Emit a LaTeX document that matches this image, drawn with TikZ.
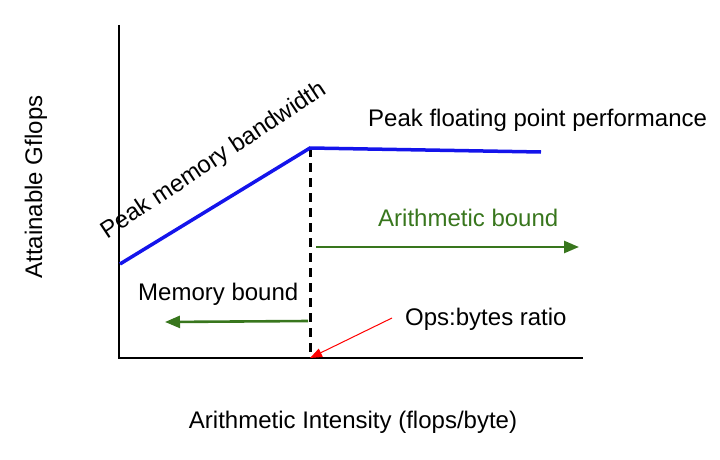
\documentclass[tikz,border=0pt]{standalone}
\usepackage{fontspec}
\setmainfont{Liberation Sans}
\usetikzlibrary{arrows.meta}
\definecolor{gbound}{RGB}{56,118,29}
\definecolor{roofblue}{RGB}{20,20,235}
\tikzset{
  lbl/.style={font=\fontsize{24}{28}\selectfont, inner sep=0pt},
  axisline/.style={line width=1.2pt, black},
  roof/.style={line width=3.5pt, roofblue},
  boundarrow/.style={line width=2.6pt, gbound, -{Triangle[length=15pt,width=12pt]}},
}
\begin{document}
\begin{tikzpicture}[x=1pt,y=-1pt]
\useasboundingbox (0,0) rectangle (720,460);
% axes
\coordinate (ytop) at (119,25);
\coordinate (origin) at (119,358);
\coordinate (xend) at (583,358);
\draw[axisline] (ytop) -- (origin) -- (xend);
% roofline
\coordinate (r0) at (120,264);
\coordinate (ridge) at (310,148);
\coordinate (r1) at (541,152);
\coordinate (ridgefoot) at (310,358);
\draw[black, line width=3pt, dash pattern=on 9pt off 6pt] (ridge) -- (ridgefoot);
\draw[roof, line join=miter] (r0) -- (ridge) -- (r1);
% bound arrows
\coordinate (ab0) at (316,247);
\coordinate (ab1) at (579,247);
\draw[boundarrow] (ab0) -- (ab1);
\coordinate (mb0) at (308,321);
\coordinate (mb1) at (165,322);
\draw[boundarrow] (mb0) -- (mb1);
% labels
\node[lbl, anchor=west] (peakfp) at (368,120) {Peak floating point performance};
\node[lbl, anchor=west, text=gbound] (arith) at (378,218) {Arithmetic bound};
\node[lbl, anchor=west] (membound) at (138,294) {Memory bound};
\node[lbl, anchor=west] (ops) at (405,319) {Ops:bytes ratio};
\node[lbl, rotate=90] (ylabel) at (36,187) {Attainable Gflops};
\node[lbl] (xlabel) at (353,422) {Arithmetic Intensity (flops/byte)};
\node[lbl, rotate=33.5] (peakmem) at (214,161) {Peak memory bandwidth};
% ops arrow
\coordinate (opstail) at (392,318);
\draw[red, line width=1pt, -{Triangle[length=12pt,width=9pt]}] (opstail) -- (ridgefoot);
\end{tikzpicture}
\end{document}
